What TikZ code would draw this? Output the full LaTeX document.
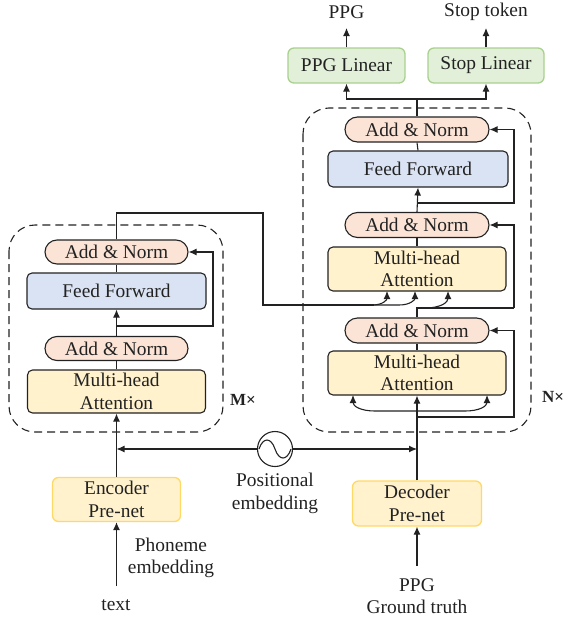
\documentclass[tikz,border=0pt]{standalone}
\usepackage{fontspec}
\setmainfont{Liberation Serif}
\usetikzlibrary{arrows.meta,shapes.misc}
\definecolor{ln}{HTML}{222222}
\definecolor{anfill}{HTML}{FBE3D6}
\definecolor{fffill}{HTML}{DAE3F3}
\definecolor{mhfill}{HTML}{FFF2CC}
\definecolor{predraw}{HTML}{FFD966}
\definecolor{linfill}{HTML}{E2F0D9}
\definecolor{lindraw}{HTML}{A9D18E}
\begin{document}
\begin{tikzpicture}[x=1pt,y=-1pt,line width=1.1pt,
  every node/.style={font=\fontsize{19.4}{22.5}\selectfont, text=ln, inner sep=0pt, align=center},
  anbox/.style={draw=ln, fill=anfill, rounded rectangle, minimum width=144pt, minimum height=25pt},
  ffbox/.style={draw=ln, fill=fffill, rectangle, rounded corners=5pt, minimum width=180pt, minimum height=36pt},
  mhbox/.style={draw=ln, fill=mhfill, rectangle, rounded corners=5pt, minimum width=178pt, minimum height=44pt},
  prebox/.style={draw=predraw, fill=mhfill, rectangle, rounded corners=6pt, minimum width=129pt, minimum height=45pt, line width=1.3pt},
  linbox/.style={draw=lindraw, fill=linfill, rectangle, rounded corners=6pt, minimum width=117pt, minimum height=35pt, line width=1.3pt},
  stack/.style={draw=ln, dashed, dash pattern=on 8pt off 5pt, rounded corners=26pt},
  conn/.style={draw=ln},
  arr/.style={draw=ln, -{Latex[length=8pt,width=7pt]}},
  arr2/.style={draw=ln, {Latex[length=8pt,width=7pt]}-{Latex[length=8pt,width=7pt]}},
  lbl/.style={font=\fontsize{17}{20}\selectfont\bfseries}
]
\useasboundingbox (0,0) rectangle (566,621);

% dashed stacks
\draw[stack] (9,225) rectangle (223,432);
\draw[stack] (303,108) rectangle (531,432);
\node[lbl] (mx) at (243,400) {M×};
\node[lbl] (nx) at (553,397) {N×};

% encoder
\node[anbox, minimum width=143pt, minimum height=24pt] (eAN2) at (116.5,252) {Add \& Norm};
\node[ffbox, minimum width=179pt] (eFF) at (116.5,291) {Feed Forward};
\node[anbox, minimum width=143pt, minimum height=24pt] (eAN1) at (116.5,348.5) {Add \& Norm};
\node[mhbox, minimum height=43pt] (eMH) at (116.5,391.5) {Multi-head\\Attention};
\node[prebox, minimum width=128pt, minimum height=44pt] (ePre) at (116.5,499.5) {Encoder\\Pre-net};
\node (txt) at (116,605) {text};
\node (phon) at (171,558) {Phoneme\\embedding};
\coordinate (txtTop) at (116.5,586);

% positional embedding
\node[draw=ln, circle, minimum size=35pt] (pe) at (275,449) {};
\draw[ln] (259,449) .. controls (263,437) and (271,437) .. (275,449) .. controls (279,461) and (287,461) .. (291,449);
\node (pelbl) at (275,493.5) {Positional\\embedding};
\coordinate (peL) at (116.5,449);
\coordinate (peR) at (417,449);

% decoder
\node[anbox] (dAN3) at (417,129.5) {Add \& Norm};
\node[ffbox] (dFF) at (418,169) {Feed Forward};
\node[anbox] (dAN2) at (417,225) {Add \& Norm};
\node[mhbox] (dMH2) at (417,269) {Multi-head\\Attention};
\node[anbox] (dAN1) at (417,330.5) {Add \& Norm};
\node[mhbox] (dMH1) at (417,373) {Multi-head\\Attention};
\node[prebox] (dPre) at (417,503.5) {Decoder\\Pre-net};
\node (gt) at (417,596) {PPG\\Ground truth};
\coordinate (gtTop) at (417,566);

\node[linbox] (pLin) at (346.5,65.5) {PPG Linear};
\node[linbox, minimum width=116pt] (sLin) at (486,65.5) {Stop Linear};
\node (ppg) at (346.5,12) {PPG};
\node (stop) at (486,12) {Stop token};

% encoder connectors
\draw[arr] (txtTop) -- (ePre.south);
\draw[arr] (ePre.north) -- (eMH.south);
\draw[conn] (eMH.north) -- (eAN1.south);
\draw[arr] (eAN1.north) -- (eFF.south);
\draw[conn] (eFF.north) -- (eAN2.south);
\coordinate (eR) at (116.5,326);
\draw[arr] (eR) -- (213,326) |- (eAN2.east);
\draw[arr] (pe.west) -- (peL);
\draw[arr] (pe.east) -- (peR);

% encoder output to decoder
\draw[conn] (eAN2.north) -- (116.5,213) -- (263,213) -- (263,305) -- (374,305);
\draw[arr] (372,305) .. controls (383,305) and (387,300) .. (387,291);
\draw[arr] (374,305) -- (399,305) .. controls (410,305) and (415,300) .. (415,291);

% decoder connectors
\draw[arr] (gtTop) -- (dPre.south);
\draw[arr] (dPre.north) -- (dMH1.south);
\draw[arr2] (353,395) .. controls (353,406) and (360,411) .. (375,411) -- (465,411) .. controls (480,411) and (487,406) .. (487,395);
\draw[arr] (417,417) -- (514,417) |- (dAN1.east);
\draw[conn] (dMH1.north) -- (dAN1.south);
\draw[conn] (dAN1.north) -- (417,308) -- (514,308);
\draw[arr] (514,308) |- (dAN2.east);
\draw[arr] (424,308) .. controls (442,308) and (448,302) .. (448,291);
\draw[conn] (dMH2.north) -- (dAN2.south);
\draw[arr] (dAN2.north) -- (dFF.south);
\draw[arr] (417,203) -- (514,203) |- (dAN3.east);
\draw[conn] (dFF.north) -- (dAN3.south);
\draw[conn] (dAN3.north) -- (417,99);
\draw[arr] (417,99) -- (346.5,99) -- (pLin.south);
\draw[arr] (417,99) -- (486,99) -- (sLin.south);
\draw[arr] (pLin.north) -- (346.5,28);
\draw[arr] (sLin.north) -- (486,28);
\end{tikzpicture}
\end{document}
